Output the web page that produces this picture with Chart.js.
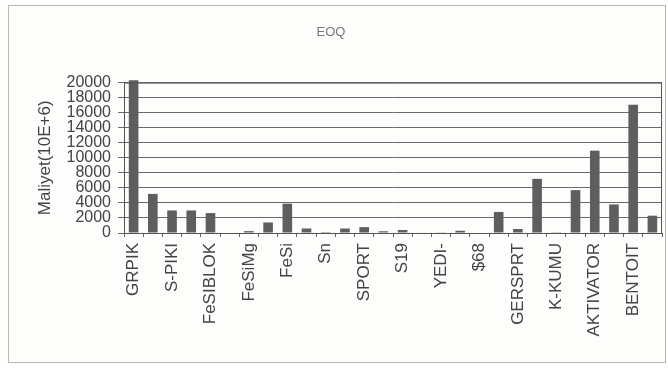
<!DOCTYPE html>
<html>
<head>
<meta charset="utf-8">
<script src="https://cdn.jsdelivr.net/npm/chart.js@4/dist/chart.umd.min.js"></script>
<style>
  body { margin: 0; background: #fdfdfc; }
  #wrap { position: relative; width: 668px; height: 368px; }
  #frame { position: absolute; left: 8px; top: 5px; width: 656px; height: 356px; border: 1px solid #b8b8b8; }
  canvas { position: absolute; left: 0; top: 0; }
</style>
</head>
<body>
<div id="wrap">
  <div id="frame"></div>
  <canvas id="chart" width="668" height="368"></canvas>
</div>
<script>
"use strict";

// category names, only every other one is printed on the original
var categories = [
  "GRPIK", "", "S-PIKI", "", "FeSIBLOK", "", "FeSiMg", "", "FeSi", "",
  "Sn", "", "SPORT", "", "S19", "", "YEDI-", "", "$68", "",
  "GERSPRT", "", "K-KUMU", "", "AKTIVATOR", "", "BENTOIT", ""
];

// EOQ cost values (Maliyet, 10E+6)
var eoqValues = [
  20300, 5200, 3000, 3000, 2650, 0, 250, 1400, 3900, 600,
  120, 600, 780, 230, 400, 60, 90, 300, 0, 2800,
  530, 7200, 100, 5700, 10950, 3800, 17050, 2300
];

var yTicks = [0, 2000, 4000, 6000, 8000, 10000, 12000, 14000, 16000, 18000, 20000];

var ctx = document.getElementById("chart");

var myChart = new Chart(ctx, {
  type: "bar",
  data: {
    labels: categories,
    datasets: [{
      label: "EOQ",
      data: eoqValues,
      backgroundColor: "#5e5e5e",
      borderWidth: 0,
      categoryPercentage: 1,
      barPercentage: 0.5,
      clip: false,
    }],
  },
  options: {
    responsive: false,
    animation: false,
    layout: { padding: { left: 0, right: 6, top: 0, bottom: 0 } },
    plugins: {
      legend: { display: false },
      tooltip: { enabled: false },
      title: {
        display: true,
        text: "EOQ",
        color: "#777",
        font: { family: "Liberation Sans", size: 13, weight: "normal" },
        padding: { top: 25, bottom: 42 },
      },
    },
    scales: {
      x: {
        afterFit: function (scale) {
          scale.height = 135;
          scale.paddingLeft = 0;
          scale.paddingRight = 0;
        },
        border: { color: "#444", width: 1 },
        grid: {
          offset: true,
          drawOnChartArea: false,
          tickLength: 4,
          color: "#666",
        },
        ticks: {
          autoSkip: false,
          minRotation: 90,
          maxRotation: 90,
          padding: 6,
          color: "#444",
          font: { family: "Liberation Sans", size: 17 },
        },
      },
      y: {
        min: 0,
        max: 20000,
        afterFit: function (scale) { scale.width = 124; },
        afterBuildTicks: function (scale) {
          scale.ticks = yTicks.map(function (v) { return { value: v }; });
        },
        border: { color: "#444", width: 1 },
        grid: {
          color: "#6a6a6a",
          tickLength: 6,
        },
        ticks: {
          autoSkip: false,
          padding: 7,
          color: "#444",
          font: { family: "Liberation Sans", size: 16 },
          callback: function (v) { return String(v); },
        },
        title: {
          display: true,
          text: "Maliyet(10E+6)",
          color: "#444",
          font: { family: "Liberation Sans", size: 17 },
          padding: { top: 35, bottom: 0 },
        },
      },
    },
  },
  plugins: [{
    id: "plotBox",
    afterDraw: function (chart) {
      var a = chart.chartArea;
      var c = chart.ctx;
      c.save();
      c.strokeStyle = "#555";
      c.lineWidth = 1;
      c.strokeRect(a.left + 0.5, a.top + 0.5, a.right - a.left - 1, a.bottom - a.top);
      c.restore();
    },
  }],
});
</script>
</body>
</html>
